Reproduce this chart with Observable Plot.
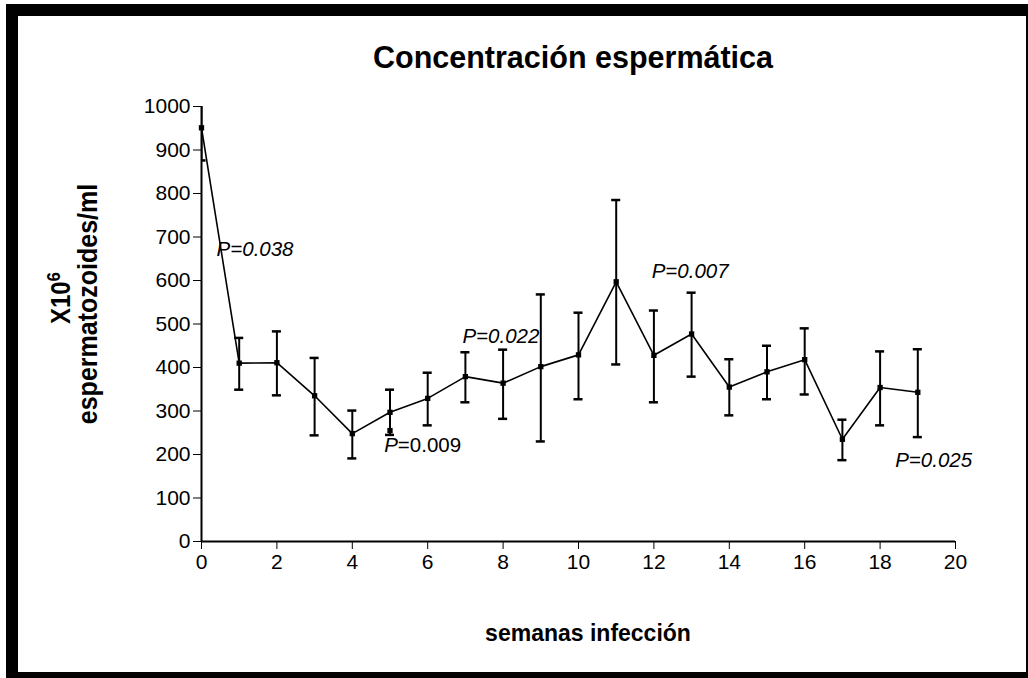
<!DOCTYPE html>
<html><head><meta charset="utf-8">
<script src="https://cdn.jsdelivr.net/npm/d3@7"></script>
<script src="https://cdn.jsdelivr.net/npm/@observablehq/plot@0.6"></script>
<style>
body{margin:0;background:#fff;}
#wrap{position:relative;width:1028px;height:678px;font-family:"Liberation Sans",Arial,sans-serif;overflow:hidden;background:#fff;color:#000}
#frame{position:absolute;left:6px;top:4px;width:1022px;height:674px;border-style:solid;border-color:#000;border-width:12px 2px 6px 12px;box-sizing:border-box;pointer-events:none;z-index:3}
#title{position:absolute;left:0;width:1146px;top:39px;text-align:center;font-weight:bold;font-size:30.5px;line-height:36px;z-index:2}
#xlabel{position:absolute;left:0;width:1176px;top:619px;text-align:center;font-weight:bold;font-size:23px;line-height:28px;z-index:2}
#ylabel{position:absolute;left:-123px;top:278px;width:400px;height:52px;text-align:center;font-weight:bold;transform:rotate(-90deg) scaleY(1.12);z-index:2}
#ylabel .l1{display:block;font-size:24px;line-height:23px;padding-left:12px}
#ylabel .l2{display:block;font-size:25px;line-height:24px}
#ylabel sup{font-size:17px;line-height:0;vertical-align:0.55em}
#chart{position:absolute;left:0;top:0}
</style>
</head><body>
<div id="wrap">
  <div id="chart"></div>
  <div id="title">Concentración espermática</div>
  <div id="ylabel"><span class="l1">X10<sup>6</sup></span><span class="l2">espermatozoides/ml</span></div>
  <div id="xlabel">semanas infección</div>
  <div id="frame"></div>
</div>
<script>
const weeks = [0,1,2,3,4,5,6,7,8,9,10,11,12,13,14,15,16,17,18,19];
const means = [951,410,411,335,248,297,329,379,364,402,429,597,428,477,355,390,418,235,354,343];
const lower = [876,349,336,244,191,245,267,320,282,230,327,407,320,379,290,327,338,187,267,240];
const upper = [1026,468,483,422,301,349,388,435,441,568,526,785,531,572,419,450,490,280,437,442];
const extraWeek = [5];
const extraValue = [255];
const annLabels = ["P=0.038","P=0.022","P=0.007","P=0.025"];
const annWeek = [0.4, 6.92, 11.94, 18.4];
const annValue = [671, 471, 621, 186];
const ann2P = ["P"];
const ann2Rest = ["=0.009"];
const ann2Week = [4.85];
const ann2Value = [221];
const xTicks = [0,2,4,6,8,10,12,14,16,18,20];
const yTicks = [0,100,200,300,400,500,600,700,800,900,1000];

const data = weeks.map((w,i)=>({w, m: means[i], lo: lower[i], hi: upper[i]}));
const extra = extraWeek.map((w,i)=>({w, m: extraValue[i]}));
const ann = annLabels.map((t,i)=>({t, w: annWeek[i], v: annValue[i]}));
const ann2 = ann2P.map((t,i)=>({p: t, r: ann2Rest[i], w: ann2Week[i], v: ann2Value[i]}));
const capHalf = 0.12;
const fmt = d3.format("d");

const plot = Plot.plot({
  width: 1028, height: 678,
  marginLeft: 201, marginRight: 73, marginTop: 106, marginBottom: 137,
  style: {fontFamily: '"Liberation Sans", Arial, sans-serif', color: "#000", background: "transparent"},
  x: {domain: [0,20]},
  y: {domain: [0,1000]},
  marks: [
    Plot.axisX({ticks: xTicks, tickSize: 8, tickPadding: 5, tickFormat: fmt, fontSize: 21, label: null}),
    Plot.axisY({ticks: yTicks, tickSize: 8, tickPadding: 3, tickFormat: fmt, fontSize: 21, label: null}),
    Plot.ruleY([0], {stroke: "#000", strokeWidth: 2}),
    Plot.ruleX([0], {y1: 0, y2: 1000, stroke: "#000", strokeWidth: 2}),
    Plot.ruleX(data, {x: "w", y1: "lo", y2: "hi", stroke: "#000", strokeWidth: 2, clip: true}),
    Plot.ruleY(data, {y: "lo", x1: d => d.w - capHalf, x2: d => d.w + capHalf, stroke: "#000", strokeWidth: 2.5, clip: true}),
    Plot.ruleY(data, {y: "hi", x1: d => d.w - capHalf, x2: d => d.w + capHalf, stroke: "#000", strokeWidth: 2.5, clip: true}),
    Plot.line(data, {x: "w", y: "m", stroke: "#000", strokeWidth: 1.6}),
    Plot.dot(data, {x: "w", y: "m", symbol: "square", r: 3, fill: "#000", stroke: "none"}),
    Plot.dot(extra, {x: "w", y: "m", symbol: "square", r: 3, fill: "#000", stroke: "none"}),
    Plot.text(ann, {x: "w", y: "v", text: "t", textAnchor: "start", lineAnchor: "middle", fontStyle: "italic", fontSize: 20.5, fill: "#000"}),
    Plot.text(ann2, {x: "w", y: "v", text: "p", textAnchor: "start", lineAnchor: "middle", fontStyle: "italic", fontSize: 20.5, fill: "#000"}),
    Plot.text(ann2, {x: "w", y: "v", text: "r", dx: 13.5, textAnchor: "start", lineAnchor: "middle", fontSize: 20.5, fill: "#000"})
  ]
});
document.getElementById("chart").appendChild(plot);
</script>
</body></html>
